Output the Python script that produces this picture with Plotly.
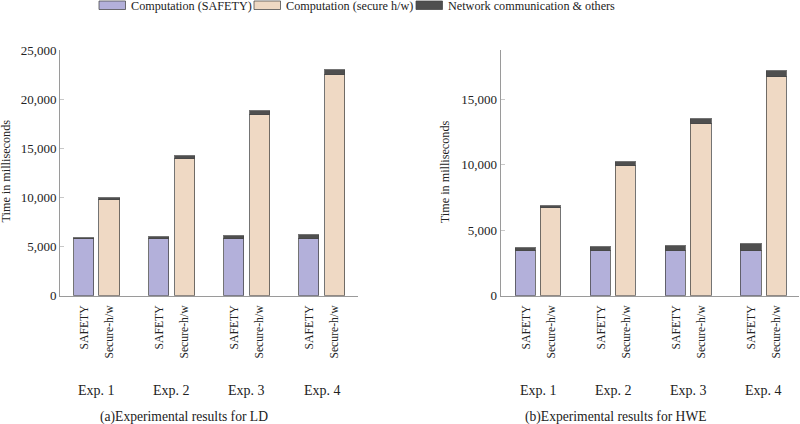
import plotly.graph_objects as go

# ---------------- data ----------------
experiments = ["Exp. 1", "Exp. 2", "Exp. 3", "Exp. 4"]
bar_labels = ["SAFETY", "Secure-h/w"]
series_names = ["Computation (SAFETY)", "Computation (secure h/w)", "Network communication & others"]

# (a) LD
ld_comp_safety = [5740, 5740, 5750, 5750]
ld_comp_secure = [9730, 13890, 18420, 22480]
ld_net_safety = [140, 250, 360, 460]
ld_net_secure = [150, 270, 390, 470]

# (b) HWE
hwe_comp_safety = [3430, 3430, 3430, 3430]
hwe_comp_secure = [6670, 9920, 13120, 16670]
hwe_net_safety = [180, 280, 380, 490]
hwe_net_secure = [180, 280, 380, 490]

y_ticks_ld = [0, 5000, 10000, 15000, 20000, 25000]
y_ticks_hwe = [0, 5000, 10000, 15000]

# ---------------- style ----------------
FONT = "Liberation Serif"
C_SAFETY = "#b3b0da"
C_SECURE = "#efd9c4"
C_NET = "#4f4f4f"
OUTLINE = dict(color="rgba(70,70,70,0.75)", width=1)
AXIS_COLOR = "#9a9a9a"
OFF = 0.167
BW = 0.267

W, H = 800, 424


def py(px):
    return (H - px) / H


def px_x(px):
    return px / W


fig = go.Figure()

idx = list(range(len(experiments)))
xs_safety = [i - OFF for i in idx]
xs_secure = [i + OFF for i in idx]


def add_panel(comp_safety, comp_secure, net_safety, net_secure, xa, ya):
    fig.add_trace(go.Bar(x=xs_safety, y=comp_safety, width=BW, name=series_names[0],
                         marker=dict(color=C_SAFETY, line=OUTLINE), xaxis=xa, yaxis=ya,
                         showlegend=False))
    fig.add_trace(go.Bar(x=xs_secure, y=comp_secure, width=BW, name=series_names[1],
                         marker=dict(color=C_SECURE, line=OUTLINE), xaxis=xa, yaxis=ya,
                         showlegend=False))
    fig.add_trace(go.Bar(x=xs_safety + xs_secure, y=net_safety + net_secure, width=BW,
                         name=series_names[2],
                         marker=dict(color=C_NET, line=OUTLINE), xaxis=xa, yaxis=ya,
                         showlegend=False))


add_panel(ld_comp_safety, ld_comp_secure, ld_net_safety, ld_net_secure, "x", "y")
add_panel(hwe_comp_safety, hwe_comp_secure, hwe_net_safety, hwe_net_secure, "x2", "y2")

tickvals = []
ticktext = []
for i in idx:
    tickvals += [xs_safety[i], xs_secure[i]]
    ticktext += bar_labels

y_bottom = py(295.7)
y_top = py(50.2)

xaxis_common = dict(
    tickvals=tickvals, ticktext=ticktext, tickangle=-90,
    tickfont=dict(family=FONT, size=11.7, color="#222"),
    showline=True, linecolor=AXIS_COLOR, linewidth=1, ticks="",
    showgrid=False, zeroline=False, ticklabelstandoff=4,
)
yaxis_common = dict(
    showline=True, linecolor=AXIS_COLOR, linewidth=1,
    ticks="inside", ticklen=4, tickcolor="#c8c8c8", tickwidth=1,
    tickformat=",d", tickfont=dict(family=FONT, size=13, color="#222"),
    showgrid=False, zeroline=False, domain=[y_bottom, y_top],
)

fig.update_layout(
    width=W, height=H,
    margin=dict(l=0, r=0, t=0, b=0, autoexpand=False),
    paper_bgcolor="white", plot_bgcolor="white",
    barmode="stack", bargap=0,
    showlegend=False,
    xaxis=dict(domain=[px_x(60), px_x(358)], range=[-0.493, 3.48], anchor="y", **xaxis_common),
    yaxis=dict(range=[0, 25000], tickvals=y_ticks_ld, anchor="x", **yaxis_common),
    xaxis2=dict(domain=[px_x(500.7), px_x(799)], range=[-0.504, 3.47], anchor="y2", **xaxis_common),
    yaxis2=dict(range=[0, 18750], tickvals=y_ticks_hwe, anchor="x2", **yaxis_common),
)

ann = []
for xr in ["x", "x2"]:
    for i, e in enumerate(experiments):
        ann.append(dict(x=i, y=py(390), xref=xr, yref="paper", text=e, showarrow=False,
                        font=dict(family=FONT, size=14, color="#222"), xanchor="center", yanchor="middle"))
ann.append(dict(x=px_x(184), y=py(416.5), xref="paper", yref="paper",
                text="(a)Experimental results for LD", showarrow=False,
                font=dict(family=FONT, size=13.6, color="#222"), xanchor="center", yanchor="middle"))
ann.append(dict(x=px_x(615.7), y=py(416.5), xref="paper", yref="paper",
                text="(b)Experimental results for HWE", showarrow=False,
                font=dict(family=FONT, size=13.6, color="#222"), xanchor="center", yanchor="middle"))
for xpx in [6, 445.7]:
    ann.append(dict(x=px_x(xpx), y=py(171.5), xref="paper", yref="paper",
                    text="Time in milliseconds", textangle=-90, showarrow=False,
                    font=dict(family=FONT, size=12.2, color="#222"), xanchor="center", yanchor="middle"))

shapes = []
legend_items = [(99, 129, C_SAFETY), (254, 284, C_SECURE), (416, 446, C_NET)]
for (sx, tx, col), name in zip(legend_items, series_names):
    shapes.append(dict(type="rect", xref="paper", yref="paper",
                       x0=px_x(sx), x1=px_x(sx + 26.5), y0=py(9.5), y1=py(1),
                       fillcolor=col, line=dict(color="rgba(70,70,70,0.75)", width=1)))
    ann.append(dict(x=px_x(tx), y=py(6.3), xref="paper", yref="paper", text=name,
                    showarrow=False, xanchor="left", yanchor="middle",
                    font=dict(family=FONT, size=12.2, color="#222")))

fig.update_layout(annotations=ann, shapes=shapes)

fig.write_html(
    "out.html",
    config={"displayModeBar": False},
    post_script="document.body.style.margin='0';document.body.style.padding='0';document.body.style.overflow='hidden';",
)
